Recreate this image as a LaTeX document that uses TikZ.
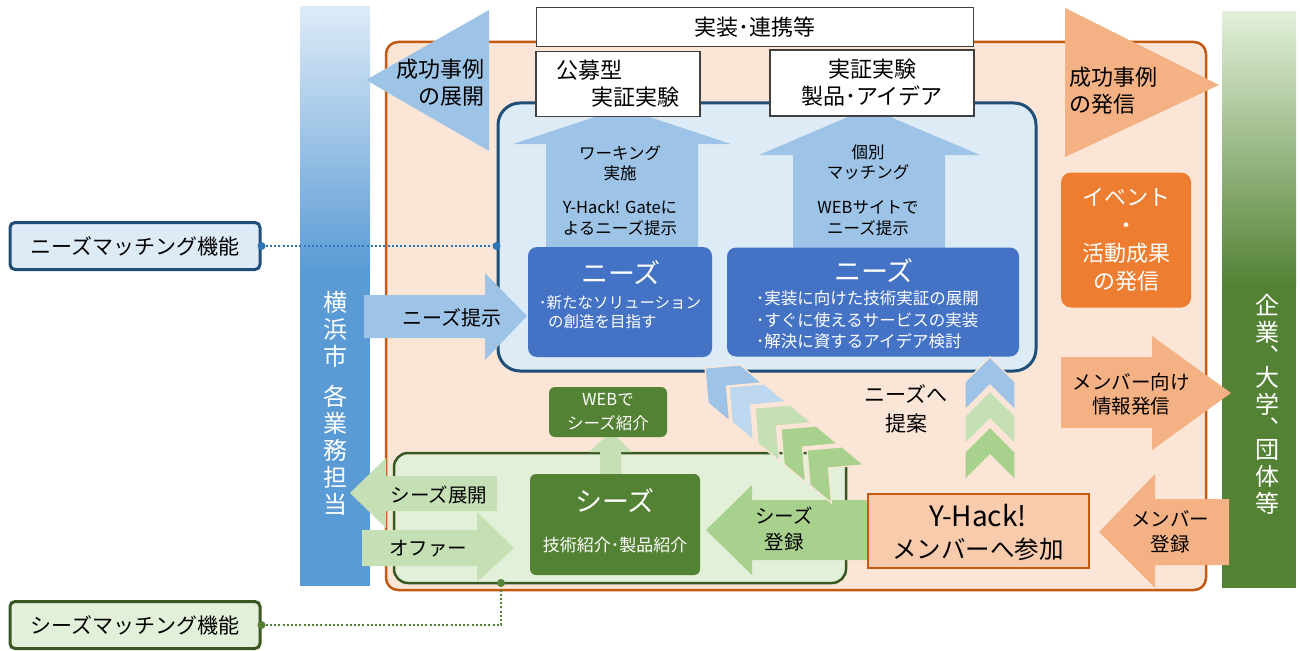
\documentclass[tikz,border=0pt]{standalone}
\usepackage{fontspec}
\setmainfont{Noto Sans CJK JP}
\usetikzlibrary{positioning}

\definecolor{bluelt}{HTML}{DDEBF7}
\definecolor{bluearr}{HTML}{9DC3E6}
\definecolor{bluearr2}{HTML}{BDD7EE}
\definecolor{bluemid}{HTML}{5B9BD5}
\definecolor{navy}{HTML}{1F4E79}
\definecolor{needblue}{HTML}{4472C4}
\definecolor{peach}{HTML}{FBE5D6}
\definecolor{rust}{HTML}{C55A11}
\definecolor{orangearr}{HTML}{F4B183}
\definecolor{orangebox}{HTML}{ED7D31}
\definecolor{yhackfill}{HTML}{F8CBAD}
\definecolor{greendk}{HTML}{548235}
\definecolor{greenline}{HTML}{385723}
\definecolor{greenlt}{HTML}{E2F0D9}
\definecolor{greenarr}{HTML}{C5E0B4}
\definecolor{greenarr2}{HTML}{A9D18E}
\definecolor{dotblue}{HTML}{2E75B6}

\newcommand{\jfont}[2]{\fontsize{#1}{#2}\selectfont}
% chevron with its apex at (#1,#2), turned by #3
\newcommand{\chevron}[4]{\fill[#4, draw=peach, line width=1.2pt, shift={(#1,#2)}, rotate=#3] (0,0) -- (25,25) -- (25,53) -- (0,28) -- (-25,53) -- (-25,25) -- cycle;}

\tikzset{
    lbl/.style={inner sep=0pt, align=center, text=black}, % plain labels
    topbox/.style={draw=black!75, fill=white, line width=1.2pt, font=\jfont{22}{27}, align=center},
    funcbox/.style={line width=3pt, rounded corners=5pt, minimum width=250pt, minimum height=47pt, font=\jfont{21}{25}},
    needbox/.style={fill=needblue, rounded corners=9pt},
    seedbox/.style={fill=greendk, rounded corners=6pt, text=white, align=center},
    sidetext/.style={text=white, align=center, inner sep=0pt, font=\jfont{24}{27}},
    dotline/.style={line width=2pt, dash pattern=on 2pt off 2.2pt},
}

\begin{document}
\begin{tikzpicture}[x=1pt, y=-1pt]
\useasboundingbox (0,0) rectangle (1300,650);

% side bars
\shade[top color=bluelt, bottom color=bluemid] (300,7) rectangle (370,270);
\fill[bluemid] (300,269) rectangle (370,586);
\node[sidetext] (city) at (335,403) {横\\浜\\市\\[13pt]各\\業\\務\\担\\当};
\shade[top color=greenlt, bottom color=greendk] (1222,12) rectangle (1296,285);
\fill[greendk] (1222,284) rectangle (1296,588);
\node[sidetext] (firms) at (1267,404) {企\\業\\[-3pt]︑\\[-6pt]大\\学\\[-3pt]︑\\[-6pt]団\\体\\等};

% Y-Hack! frame
\node[draw=rust, fill=peach, line width=2.5pt, rounded corners=12pt, minimum width=820pt, minimum height=548pt] (frame) at (796,316) {};

% success stories
\fill[bluearr] (489,10) -- (489,151) -- (366,80) -- cycle;
\node[lbl, align=right, anchor=east, font=\jfont{22}{27}] (spread) at (485,83) {成功事例\\の展開};
\fill[orangearr] (1065,8) -- (1219,85) -- (1065,157) -- cycle;
\node[lbl, align=left, anchor=west, font=\jfont{22}{27}] (publish) at (1069,91) {成功事例\\の発信};

% needs area
\node[draw=navy, fill=bluelt, line width=3pt, rounded corners=22pt, minimum width=538pt, minimum height=268pt] (needs) at (767,237) {};
\fill[bluearr] (546,250) -- (546,144) -- (513,144) -- (622,108) -- (731,144) -- (698,144) -- (698,250) -- cycle;
\fill[bluearr] (793,250) -- (793,155) -- (759,155) -- (869,108) -- (980,155) -- (945,155) -- (945,250) -- cycle;
\node[lbl, font=\jfont{16.5}{20}] (working) at (620,163) {ワーキング\\実施};
\node[lbl, font=\jfont{16.5}{21}] (gate) at (620,218) {Y-Hack! Gateに\\よるニーズ提示};
\node[lbl, font=\jfont{16.5}{20}] (match) at (868,162) {個別\\マッチング};
\node[lbl, font=\jfont{16.5}{21}] (website) at (868,218) {WEBサイトで\\ニーズ提示};

\node[topbox, minimum width=437pt, minimum height=39pt] (deploy) at (755,27) {実装･連携等};
\node[topbox, minimum width=164pt, minimum height=65pt, align=left] (pubtest) at (618,84) {公募型\\\hspace*{1.6em}実証実験};
\node[topbox, minimum width=204pt, minimum height=66pt] (prodtest) at (872,83) {実証実験\\製品･アイデア};

\node[needbox, minimum width=184pt, minimum height=110pt] (needsL) at (620,302) {};
\node[lbl, text=white, font=\jfont{27}{30}] (needsLtitle) at (621,273) {ニーズ};
\node[lbl, text=white, align=left, font=\jfont{15.5}{19.5}] (needsLtext) at (620,312) {･新たなソリューション\\\hspace*{0.6em}の創造を目指す};
\node[needbox, minimum width=292pt, minimum height=109pt] (needsR) at (873,302) {};
\node[lbl, text=white, font=\jfont{27}{30}] (needsRtitle) at (874,271) {ニーズ};
\node[lbl, text=white, align=left, anchor=west, font=\jfont{16.5}{21.5}] (needsRtext) at (756,320) {･実装に向けた技術実証の展開\\･すぐに使えるサービスの実装\\･解決に資するアイデア検討};

\fill[bluearr] (364,295) -- (485,295) -- (485,273) -- (527,316) -- (485,360) -- (485,338) -- (364,338) -- cycle;
\node[lbl, font=\jfont{20}{24}] (needsshow) at (452,318) {ニーズ提示};

\node[funcbox, draw=navy, fill=bluelt] (needsfn) at (135,246) {ニーズマッチング機能};
\draw[dotline, dotblue] (needsfn.east) -- (needsfn.east -| needs.west);
\fill[dotblue] (needsfn.east) circle (4pt) (needsfn.east -| needs.west) circle (4pt);

% seeds area
\node[draw=greenline, fill=greenlt, line width=2.5pt, rounded corners=14pt, minimum width=452pt, minimum height=130pt] (seeds) at (620,518) {};
\fill[greenarr] (600,475) -- (600,452) -- (589,452) -- (611,432) -- (632,452) -- (621,452) -- (621,475) -- cycle;
\node[seedbox, minimum width=118pt, minimum height=50pt, font=\jfont{16.5}{24}] (webseeds) at (608,412) {WEBで\\シーズ紹介};
\node[seedbox, minimum width=170pt, minimum height=101pt] (seedsbox) at (615,524.5) {};
\node[lbl, text=white, font=\jfont{27}{30}] (seedstitle) at (615,501) {シーズ};
\node[lbl, text=white, font=\jfont{17}{20}] (seedstext) at (615,545) {技術紹介･製品紹介};

\fill[greenarr] (497,476) -- (386,476) -- (386,458) -- (350,493) -- (386,528) -- (386,511) -- (497,511) -- cycle;
\node[lbl, font=\jfont{19.5}{24}] (seedspread) at (439,495) {シーズ展開};
\fill[greenarr] (362,530) -- (477,530) -- (477,512) -- (514,548) -- (477,582) -- (477,566) -- (362,566) -- cycle;
\node[lbl, font=\jfont{19.5}{24}] (offer) at (428,549) {オファー};

\fill[greenarr2] (868,500) -- (752,500) -- (752,485) -- (706,530) -- (752,575) -- (752,560) -- (868,560) -- cycle;
\node[lbl, font=\jfont{19.5}{26}] (seedsreg) at (784,529) {シーズ\\登録};

% membership
\node[draw=rust, fill=yhackfill, line width=2.5pt, minimum width=221pt, minimum height=74pt] (member) at (978.5,531) {};
\node[lbl, font=\jfont{28}{30}] (memberA) at (978,516) {Y-Hack!};
\node[lbl, font=\jfont{24.5}{28}] (memberB) at (978,549) {メンバーへ参加};

\chevron{705}{368}{50}{bluearr}
\chevron{729}{387}{50}{bluearr2}
\chevron{755}{408}{50}{greenarr}
\chevron{781}{429}{50}{greenarr2}
\chevron{807}{450}{50}{greenarr2}
\chevron{990}{357}{0}{bluearr}
\chevron{990}{391}{0}{greenarr}
\chevron{990}{427}{0}{greenarr2}
\node[lbl, font=\jfont{21}{29}] (proposal) at (906,409) {ニーズへ\\提案};

\node[fill=orangebox, rounded corners=10pt, minimum width=130pt, minimum height=135pt, text=white, align=center, inner sep=0pt, font=\jfont{22}{28}] (event) at (1126,240) {イベント\\・\\活動成果\\の発信};
\fill[orangearr] (1061,357) -- (1152,357) -- (1152,336) -- (1231,393) -- (1152,450) -- (1152,428) -- (1061,428) -- cycle;
\node[lbl, font=\jfont{19.5}{24}] (memberinfo) at (1131,394) {メンバー向け\\情報発信};
\fill[orangearr] (1229,499) -- (1155,499) -- (1155,474) -- (1099,532) -- (1155,588) -- (1155,565) -- (1229,565) -- cycle;
\node[lbl, font=\jfont{19.5}{25}] (memberreg) at (1170,532) {メンバー\\登録};

% seeds matching
\node[funcbox, draw=greenline, fill=greenlt] (seedsfn) at (135,625) {シーズマッチング機能};
\coordinate (seedsdot) at (501,583);
\draw[dotline, greendk] (seedsfn.east) -| (seedsdot);
\fill[greendk] (seedsfn.east) circle (4pt) (seedsdot) circle (4pt);
\end{tikzpicture}
\end{document}
